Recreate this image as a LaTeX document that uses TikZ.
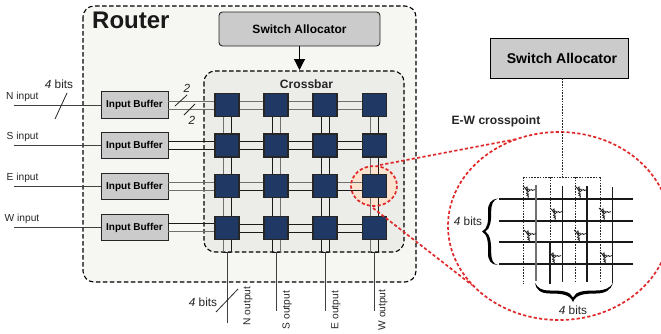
\documentclass[tikz,border=0pt]{standalone}
\usepackage{fontspec}
\setmainfont{Liberation Sans}
\usetikzlibrary{arrows.meta}
\definecolor{rfill}{HTML}{F6F7F2}
\definecolor{cfill}{HTML}{ECEDE9}
\definecolor{boxgray}{HTML}{CBCBCB}
\definecolor{xblue}{HTML}{1F3864}
\definecolor{zoomred}{HTML}{E0282A}
\definecolor{halo}{HTML}{FBE3CF}
\definecolor{wg}{HTML}{707070}
\definecolor{wk}{HTML}{1A1A1A}
\tikzset{
  routerbox/.style={draw=black,fill=rfill,line width=1.1pt,dash pattern=on 4.5pt off 2.5pt,rounded corners=11pt},
  crossbox/.style={draw=black,fill=cfill,line width=1.1pt,dash pattern=on 4.5pt off 2.5pt,rounded corners=11pt},
  allocsmall/.style={draw=black!85,fill=boxgray,rounded corners=3.5pt,line width=0.9pt,minimum width=161pt,minimum height=34pt,inner sep=0pt,font=\fontsize{12}{13}\selectfont\bfseries},
  allocbig/.style={draw=black,fill=boxgray,line width=0.9pt,minimum width=138pt,minimum height=40pt,inner sep=0pt,font=\fontsize{14.1}{15}\selectfont\bfseries},
  bufferbox/.style={draw=black!85,fill=boxgray,line width=0.9pt,minimum width=67pt,minimum height=26.5pt,inner sep=0pt,font=\fontsize{10}{11}\selectfont\bfseries},
  xpoint/.style={draw=black!85,fill=xblue,line width=1.1pt,minimum width=24pt,minimum height=23pt,inner sep=0pt},
  lab/.style={inner sep=0pt,text=black!85,font=\fontsize{10.2}{11}\selectfont},
  bits/.style={inner sep=0pt,text=black!85,font=\fontsize{11.8}{13}\selectfont},
  wire/.style={line width=1pt},
  iowire/.style={line width=1pt,draw=black!75},
  slash/.style={line width=0.8pt,draw=black!85},
  zoomline/.style={draw=zoomred,line width=1.7pt,dash pattern=on 3.2pt off 2.2pt},
  busline/.style={line width=1.7pt,draw=black!90},
  ctrl/.style={line width=0.8pt,dash pattern=on 1.6pt off 1.2pt,draw=black!85},
  bitline/.style={line width=1.1pt,draw=wk},
  pics/switchglyph/.style={code={
    \draw[line width=0.8pt,draw=black!85] (-6,-6) -- (0,0);
    \draw[line width=0.8pt,draw=black!85] (-3.5,-3.5) -- (-2,-5) -- (-1.5,-2.5) -- (0,-3) -- (0.5,-1.5) -- (2.5,-2.5) -- (3.5,-1.5) -- (6,-2.5);
    \draw[line width=0.8pt,draw=black!85] (-3.5,-3.5) -- (-1.5,0) -- (-2.5,1.5) -- (-0.5,2) -- (-2,3.5) -- (-0.5,4) -- (-1,6);
  }}
}
\begin{document}
\begin{tikzpicture}[x=1pt,y=-1pt]
\clip (0,0) rectangle (661,333);
\fill[white] (0,0) rectangle (661,333);
% containers
\draw[routerbox] (83,6) rectangle (416,282);
\draw[crossbox] (204,71) rectangle (404,252);
\node[inner sep=0pt,anchor=west,font=\fontsize{24}{26}\selectfont\bfseries,text=black!90] (router) at (92,20) {Router};
\node[inner sep=0pt,font=\fontsize{12.1}{13}\selectfont\bfseries,text=black!85] (crossbar) at (306.5,84) {Crossbar};
% allocator
\node[allocsmall] (alloc) at (299.5,29) {Switch Allocator};
\coordinate (allocin) at (299.5,70);
\draw[line width=1.1pt,-{Triangle[length=11pt,width=11pt]}] (alloc.south -| allocin) -- (allocin);
% highlight fill
\fill[halo] (374,186) ellipse (23 and 20);
% crosspoint wires: vertical
\coordinate (c1) at (227,0); \coordinate (c2) at (276,0); \coordinate (c3) at (325,0); \coordinate (c4) at (374.5,0);
\coordinate (r1) at (0,105); \coordinate (r2) at (0,145.5); \coordinate (r3) at (0,186); \coordinate (r4) at (0,228);
\foreach \cc/\lc/\rc in {1/wg/wk,2/wk/wg,3/wk/wk,4/wg/wk}{
  \coordinate (bot\cc) at (c\cc |- 0,252);
  \draw[wire,draw=\lc] ([xshift=-4pt]c\cc |- r1) -- ([xshift=-4pt]bot\cc);
  \draw[wire,draw=\rc] ([xshift=4pt]c\cc |- r1) -- ([xshift=4pt]bot\cc);
  \draw[wire,draw=wk] ([xshift=-4pt]bot\cc) -- ([xshift=4pt]bot\cc);
}
% horizontal
\foreach \rr/\tc/\bc in {1/wg/wg,2/wk/wk,3/wg/wk,4/wk/wk}{
  \draw[wire,draw=\tc] ([yshift=4pt]c1 |- r\rr) -- ([yshift=4pt]c4 |- r\rr);
  \draw[wire,draw=\bc] ([yshift=-4pt]c1 |- r\rr) -- ([yshift=-4pt]c4 |- r\rr);
}
% crosspoints
\foreach \cc in {1,2,3,4}{\foreach \rr in {1,2,3,4}{
  \node[xpoint] (x\cc\rr) at (c\cc |- r\rr) {};
}}
% buffers and inputs
\foreach \rr/\name/\bx/\lx/\tc/\bc in {1/N input/105/6/wg/wg,2/S input/145.5/6.5/wk/wk,3/E input/186.5/6.5/wg/wg,4/W input/227.5/4.5/wk/wg}{
  \node[bufferbox] (buf\rr) at (134.5,\bx) {Input Buffer};
  \coordinate (in\rr) at (14,\bx);
  \draw[iowire] (in\rr) -- (buf\rr.west);
  \node[lab,anchor=west] (inlab\rr) at (\lx,\bx-8.5) {\name};
  \draw[wire,draw=\tc] ([yshift=4pt]buf\rr.east) -- ([yshift=4pt]buf\rr.east -| x1\rr.west);
  \draw[wire,draw=\bc] ([yshift=-4pt]buf\rr.east) -- ([yshift=-4pt]buf\rr.east -| x1\rr.west);
}
\node[bits] (bitsin) at (59,84) {\textit{4} bits};
\coordinate (sl1a) at (55,119); \coordinate (sl1b) at (67,93);
\draw[slash] (sl1a) -- (sl1b);
\coordinate (sl2a) at (175,106); \coordinate (sl2b) at (187,95);
\draw[slash] (sl2a) -- (sl2b);
\coordinate (sl3a) at (184,115); \coordinate (sl3b) at (195,104);
\draw[slash] (sl3a) -- (sl3b);
\node[bits] (two1) at (187,88) {\textit{2}};
\node[bits] (two2) at (192,120) {\textit{2}};
% outputs
\foreach \cc/\yy in {1/323,2/311,3/311,4/311}{
  \coordinate (out\cc) at (c\cc |- 0,\yy);
  \draw[iowire] (bot\cc) -- (out\cc);
}
\node[lab,rotate=90] (outlab1) at (248,306) {N output};
\node[lab,rotate=90] (outlab2) at (287,310) {S output};
\node[lab,rotate=90] (outlab3) at (336,310) {E output};
\node[lab,rotate=90] (outlab4) at (383,310) {W output};
\node[bits] (bitsout) at (203,302) {\textit{4} bits};
\coordinate (sl4a) at (216,312); \coordinate (sl4b) at (238,289);
\draw[slash] (sl4a) -- (sl4b);
% zoom
\draw[zoomline] (374,186) ellipse (23 and 20);
\draw[zoomline] (559,226) ellipse (111 and 94);
\coordinate (zt1) at (380,165); \coordinate (zt2) at (517,139);
\coordinate (zb1) at (373,208); \coordinate (zb2) at (472,285);
\draw[zoomline] (zt1) -- (zt2);
\draw[zoomline] (zb1) -- (zb2);
% right detail
\node[allocbig] (allocB) at (559,58) {\hspace*{6pt}Switch Allocator};
\node[inner sep=0pt,font=\fontsize{12.1}{13}\selectfont\bfseries,text=black!85] (ew) at (496,121) {E-W crosspoint};
\coordinate (ctop) at (562,177);
\draw[ctrl] (allocB.south -| ctop) -- (ctop);
\coordinate (ctl) at (523,177); \coordinate (ctr) at (600,177);
\draw[ctrl] (ctl) -- (ctr);
\coordinate (d1) at (523,284); \coordinate (d3) at (575,281); \coordinate (d4) at (600,281); \coordinate (d2) at (550,241);
\draw[ctrl] (ctl) -- (d1);
\draw[ctrl] (d2 |- ctl) -- (d2);
\draw[ctrl] (d3 |- ctl) -- (d3);
\draw[ctrl] (ctr) -- (d4);
\foreach \yy/\nn in {199/a,221/b,242/c,264/d}{
  \coordinate (bl\nn) at (499,\yy); \coordinate (br\nn) at (633,\yy);
  \draw[busline] (bl\nn) -- (br\nn);
}
\coordinate (v1t) at (536,185); \coordinate (v1b) at (536,281);
\coordinate (v2t) at (550,243); \coordinate (v2b) at (550,284);
\coordinate (v3t) at (562,186); \coordinate (v3b) at (562,282);
\coordinate (v4t) at (587,186); \coordinate (v4b) at (587,282);
\coordinate (v5t) at (612,187); \coordinate (v5b) at (612,283);
\draw[line width=1.1pt,draw=wg] (v1t) -- (v1b);
\draw[bitline] (v2t) -- (v2b);
\draw[line width=0.9pt,draw=wk] (v3t) -- (v3b);
\draw[line width=1.3pt,draw=wk] (v4t) -- (v4b);
\draw[line width=0.9pt,draw=wk] (v5t) -- (v5b);
\foreach \gx/\gy in {529/192,556/214,530/236,555/258,581/192,605/214,580/236,606/258}{
  \pic at (\gx,\gy) {switchglyph};
}
% braces
\fill[black] (498,198.5) .. controls (491,199) and (487.5,204) .. (488,212)
  .. controls (488.5,222) and (487.5,229) .. (482,231.5)
  .. controls (487.5,234) and (488.5,243) .. (488,252)
  .. controls (487.5,260) and (491,265) .. (498,265)
  .. controls (493,264) and (491.2,260) .. (491.2,252)
  .. controls (491.2,243) and (490.5,235) .. (485.5,231.5)
  .. controls (490.5,228) and (491.2,221) .. (491.2,212)
  .. controls (491.2,204) and (493,200) .. (498,198.5) -- cycle;
\fill[black] (535,283) .. controls (536,290) and (541,293.5) .. (550,293.5)
  .. controls (562,293.5) and (570,294.5) .. (573,302)
  .. controls (576,294.5) and (584,293.5) .. (596,293.5)
  .. controls (605,293.5) and (611,290) .. (613,283)
  .. controls (610,288) and (605,290.5) .. (596,290.5)
  .. controls (584,290.5) and (576,291) .. (573,297.5)
  .. controls (570,291) and (562,290.5) .. (550,290.5)
  .. controls (541,290.5) and (538,288) .. (535,283) -- cycle;
\node[bits] (bitsl) at (468,221) {\textit{4} bits};
\node[bits] (bitsb) at (573,310) {\textit{4} bits};
\end{tikzpicture}
\end{document}
